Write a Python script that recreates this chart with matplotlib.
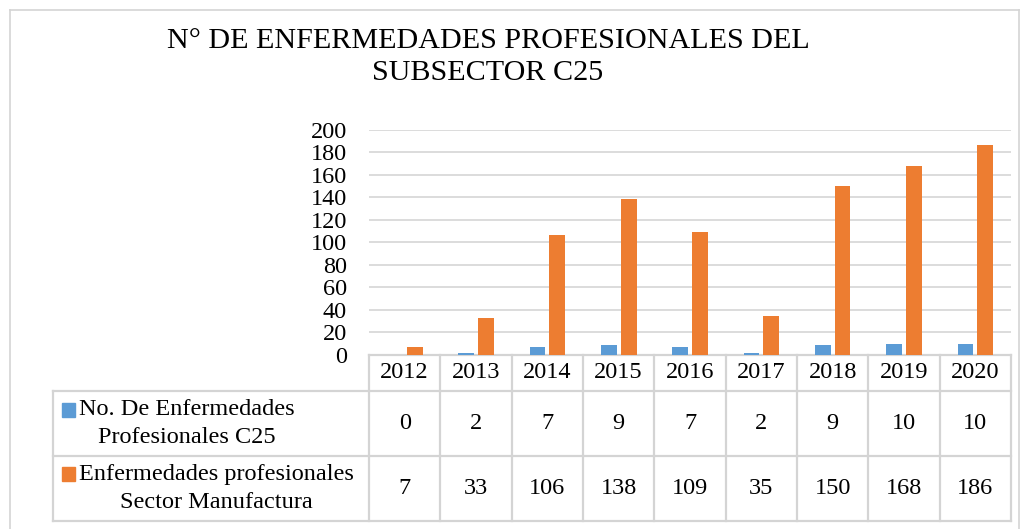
import matplotlib
matplotlib.use("Agg")
import matplotlib.pyplot as plt
from matplotlib.transforms import blended_transform_factory
from matplotlib.lines import Line2D
from matplotlib.patches import Rectangle

years = ["2012", "2013", "2014", "2015", "2016", "2017", "2018", "2019", "2020"]
c25 = [0, 2, 7, 9, 7, 2, 9, 10, 10]
manufactura = [7, 33, 106, 138, 109, 35, 150, 168, 186]
series_names = ["No. De Enfermedades\nProfesionales C25",
                "Enfermedades profesionales\nSector Manufactura"]
title = "N° DE ENFERMEDADES PROFESIONALES DEL\nSUBSECTOR C25"

BLUE = "#5B9BD5"
ORANGE = "#ED7D31"
GRID = "#D9D9D9"
BORDER = "#D4D4D4"

plt.rcParams['font.family'] = ['Liberation Serif', 'DejaVu Serif']

W, H = 1023, 529
fig = plt.figure(figsize=(W / 100, H / 100), dpi=100)

def fx(px):
    return px / W

def fy(py):
    return 1 - py / H

# outer chart border
for xs, ys in [((10, 10), (10, 540)), ((10, 1019), (10, 10)), ((1019, 1019), (10, 540))]:
    fig.add_artist(Line2D([fx(x) for x in xs], [fy(y) for y in ys],
                          transform=fig.transFigure, color=BORDER, lw=1.2))

fig.text(fx(488), fy(57), title, ha='center', va='center', fontsize=21.7,
         linespacing=1.32, color='black')

left, right, top, bottom = 369, 1011, 129.5, 355
ax = fig.add_axes([fx(left), fy(bottom), fx(right - left), (bottom - top) / H])
n = len(years)
x = list(range(n))
w = 0.22
off = 0.14
ax.bar([i - off for i in x], c25, width=w, color=BLUE, zorder=3)
ax.bar([i + off for i in x], manufactura, width=w, color=ORANGE, zorder=3)
ax.set_xlim(-0.5, n - 0.5)
ax.set_ylim(0, 200)
ax.set_yticks(range(0, 201, 20))
ax.tick_params(axis='y', length=0, pad=16, labelsize=17.5)
ax.set_xticks([])
ax.yaxis.grid(True, color=GRID, lw=1.3, zorder=0)
for s in ax.spines.values():
    s.set_visible(False)

# data table
tr = blended_transform_factory(ax.transData, fig.transFigure)
y0, y1, y2, y3 = 355, 391, 456, 521
lkw = dict(color=BORDER, lw=1.6, clip_on=False, transform=tr)

# horizontal lines
ax.add_line(Line2D([-0.5, n - 0.5], [fy(y0), fy(y0)], **lkw))
xleft_data = -0.5 - (369 - 53) / ((right - left) / n)
for yy in (y1, y2, y3):
    ax.add_line(Line2D([xleft_data, n - 0.5], [fy(yy), fy(yy)], **lkw))
# vertical lines
for i in range(n + 1):
    ax.add_line(Line2D([i - 0.5, i - 0.5], [fy(y0), fy(y3)], **lkw))
ax.add_line(Line2D([xleft_data, xleft_data], [fy(y1), fy(y3)], **lkw))

# year header
for i, yr in enumerate(years):
    ax.text(i, fy(373), yr, transform=tr, ha='center', va='center', fontsize=17.5)
# values
rows = [(c25, (y1 + y2) / 2, BLUE, series_names[0], 410),
        (manufactura, (y2 + y3) / 2, ORANGE, series_names[1], 474)]
for vals, yc, col, name, yline1 in rows:
    for i, v in enumerate(vals):
        ax.text(i, fy(yc), str(v), transform=tr, ha='center', va='center', fontsize=17.5)
    fig.text(fx(79), fy(yc), name, ha='left', va='center', fontsize=17.5,
             multialignment='center', linespacing=1.4)
    fig.add_artist(Rectangle((fx(62), fy(yline1 + 7)), fx(13), 14 / H,
                             transform=fig.transFigure, color=col))

fig.savefig("out.png", dpi=100)
